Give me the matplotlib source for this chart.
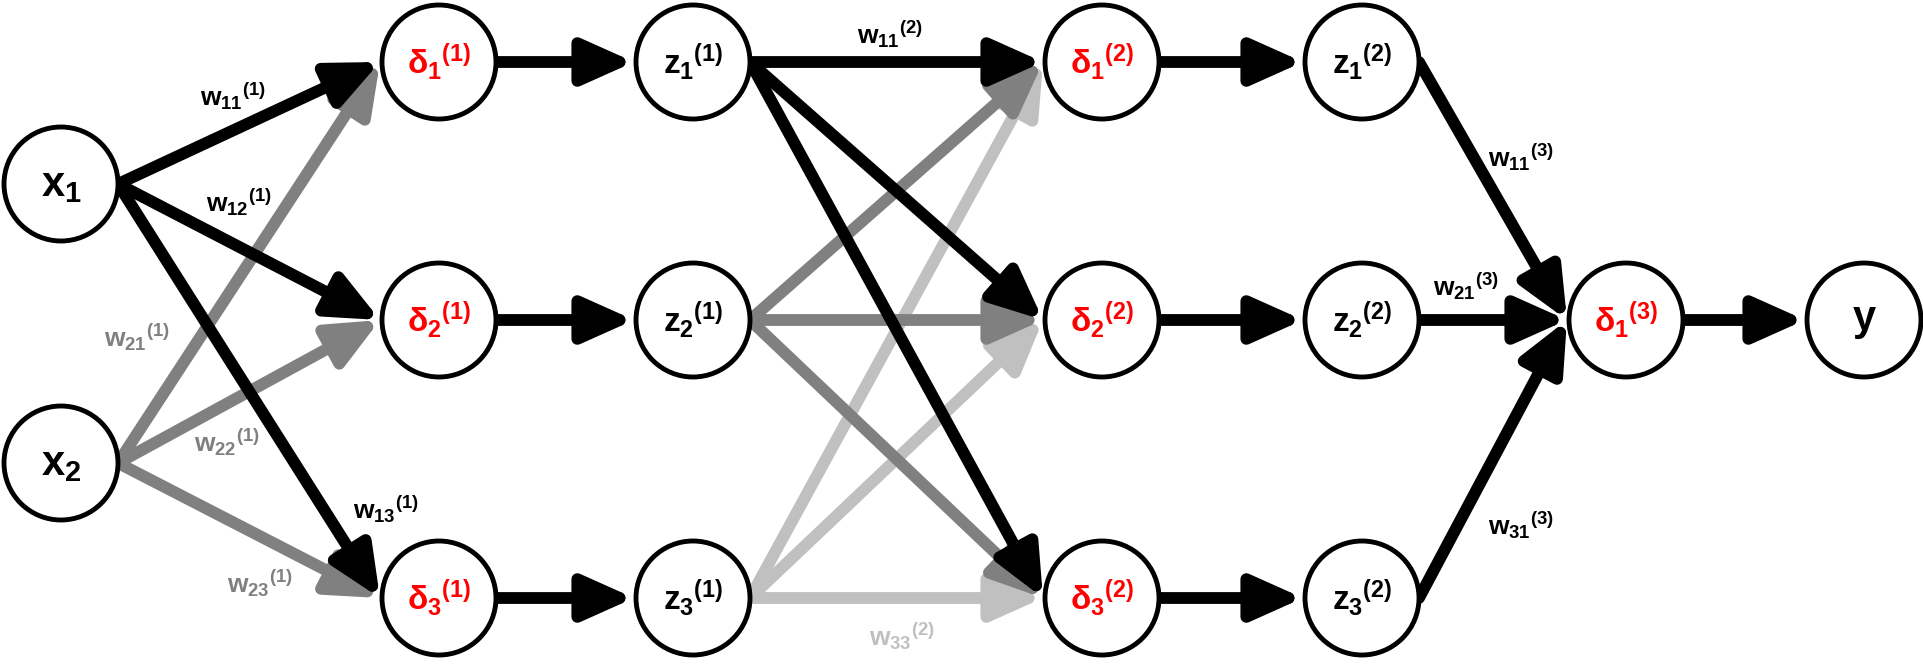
import matplotlib
matplotlib.use("Agg")
import matplotlib.pyplot as plt
from matplotlib.patches import Circle, FancyArrowPatch

plt.rcParams['mathtext.fontset'] = 'custom'
plt.rcParams['mathtext.rm'] = 'Liberation Sans:bold'
plt.rcParams['mathtext.it'] = 'Liberation Sans:bold'
plt.rcParams['mathtext.bf'] = 'Liberation Sans:bold'

# node name -> (x, y, label, colour)
nodes = {
    'x1': (61, 184, r'${x_1}$', 'black'),
    'x2': (61, 463, r'${x_2}$', 'black'),
    'd11': (439, 62, r'${\delta_1}^{(1)}$', 'red'),
    'd12': (439, 320, r'${\delta_2}^{(1)}$', 'red'),
    'd13': (439, 598, r'${\delta_3}^{(1)}$', 'red'),
    'z11': (693, 62, r'${z_1}^{(1)}$', 'black'),
    'z12': (693, 320, r'${z_2}^{(1)}$', 'black'),
    'z13': (693, 598, r'${z_3}^{(1)}$', 'black'),
    'd21': (1102, 62, r'${\delta_1}^{(2)}$', 'red'),
    'd22': (1102, 320, r'${\delta_2}^{(2)}$', 'red'),
    'd23': (1102, 598, r'${\delta_3}^{(2)}$', 'red'),
    'z21': (1362, 62, r'${z_1}^{(2)}$', 'black'),
    'z22': (1362, 320, r'${z_2}^{(2)}$', 'black'),
    'z23': (1362, 598, r'${z_3}^{(2)}$', 'black'),
    'd31': (1626, 320, r'${\delta_1}^{(3)}$', 'red'),
    'y': (1864, 320, r'$y$', 'black'),
}
R = 57

BLACK, GRAY, LIGHT = 'black', '#808080', '#c0c0c0'
edges = [
    ('x2', 'd11', GRAY), ('x2', 'd12', GRAY), ('x2', 'd13', GRAY),
    ('x1', 'd11', BLACK), ('x1', 'd12', BLACK), ('x1', 'd13', BLACK),
    ('d11', 'z11', BLACK), ('d12', 'z12', BLACK), ('d13', 'z13', BLACK),
    ('z13', 'd21', LIGHT), ('z13', 'd22', LIGHT), ('z13', 'd23', LIGHT),
    ('z12', 'd21', GRAY), ('z12', 'd22', GRAY), ('z12', 'd23', GRAY),
    ('z11', 'd21', BLACK), ('z11', 'd22', BLACK), ('z11', 'd23', BLACK),
    ('d21', 'z21', BLACK), ('d22', 'z22', BLACK), ('d23', 'z23', BLACK),
    ('z21', 'd31', BLACK), ('z22', 'd31', BLACK), ('z23', 'd31', BLACK),
    ('d31', 'y', BLACK),
]

weights = [
    (233, 96, r'${w_{11}}^{(1)}$', BLACK),
    (239, 202, r'${w_{12}}^{(1)}$', BLACK),
    (137, 337, r'${w_{21}}^{(1)}$', GRAY),
    (227, 442, r'${w_{22}}^{(1)}$', GRAY),
    (386, 509, r'${w_{13}}^{(1)}$', BLACK),
    (260, 583, r'${w_{23}}^{(1)}$', GRAY),
    (890, 34, r'${w_{11}}^{(2)}$', BLACK),
    (902, 636, r'${w_{33}}^{(2)}$', LIGHT),
    (1521, 157, r'${w_{11}}^{(3)}$', BLACK),
    (1466, 286, r'${w_{21}}^{(3)}$', BLACK),
    (1521, 525, r'${w_{31}}^{(3)}$', BLACK),
]

fig = plt.figure(figsize=(19.24, 6.72), dpi=100)
ax = fig.add_axes([0, 0, 1, 1])
ax.set_xlim(0, 1924)
ax.set_ylim(672, 0)
ax.axis('off')

for s, t, c in edges:
    x0, y0 = nodes[s][:2]
    x1, y1 = nodes[t][:2]
    p0 = (x0 + R, y0)
    p1 = (x1 - R - 2, y1)
    ax.add_patch(FancyArrowPatch(p0, p1, arrowstyle='-|>,head_length=1.9,head_width=0.85',
                                 mutation_scale=16, color=c, lw=8.5,
                                 shrinkA=0, shrinkB=0, zorder=2))

for k, (x, y, lab, col) in nodes.items():
    ax.add_patch(Circle((x, y), R, facecolor='white', edgecolor='black', lw=3.5, zorder=3))
    ax.text(x, y, lab, color=col, fontsize=30 if k in ('x1', 'x2', 'y') else 24,
            ha='center', va='center', zorder=4)

for x, y, lab, col in weights:
    ax.text(x, y, lab, color=col, fontsize=19, ha='center', va='center', zorder=5)

fig.savefig('out.png', dpi=100)
